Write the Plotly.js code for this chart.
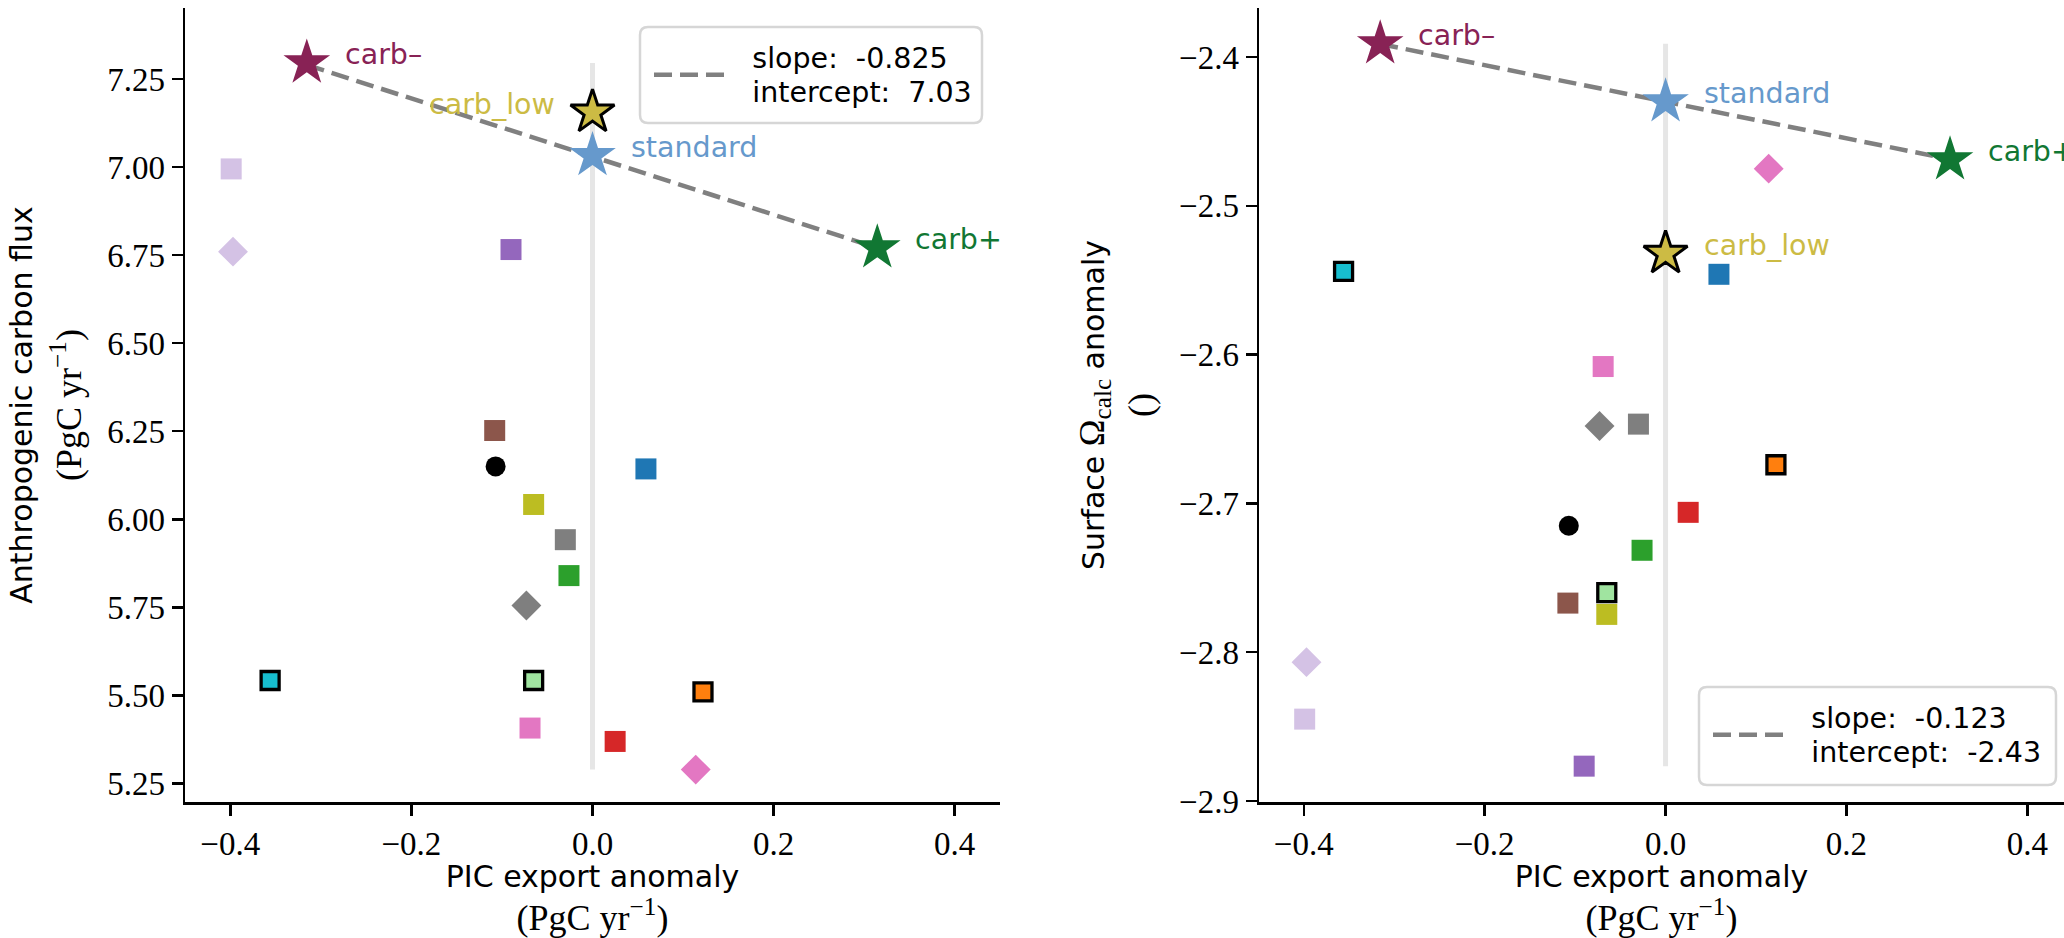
<!DOCTYPE html>
<html>
<head>
<meta charset="utf-8">
<script src="https://cdn.plot.ly/plotly-3.0.1.min.js"></script>
<style>html,body{margin:0;padding:0;background:#fff;}</style>
</head>
<body>
<div id="chart" style="width:2064px;height:938px;"></div>
<script>
// ---------------- data ----------------
// model runs (colour / marker per run)
const modelColors  = ['#000000','#1f77b4','#ff7f0e','#2ca02c','#d62728','#9467bd','#8c564b','#e377c2','#7f7f7f','#bcbd22','#17becf','#a0e4a0','#d4c2e5','#d4c2e5','#7f7f7f','#e377c2'];
const modelSymbols = ['circle','square','square','square','square','square','square','square','square','square','square','square','square','diamond','diamond','diamond'];
const modelEdged   = [false,false,true,false,false,false,false,false,false,false,true,true,false,false,false,false];
const picExport    = [-0.107, 0.059, 0.122, -0.026, 0.025, -0.090, -0.108, -0.069, -0.030, -0.065, -0.356, -0.065, -0.399, -0.397, -0.073, 0.114];
const anthroFlux   = [6.150, 6.143, 5.510, 5.840, 5.369, 6.766, 6.252, 5.407, 5.942, 6.042, 5.542, 5.542, 6.995, 6.760, 5.755, 5.289];
const omegaAnom    = [-2.715, -2.546, -2.674, -2.7315, -2.706, -2.8766, -2.767, -2.608, -2.6467, -2.7746, -2.544, -2.760, -2.845, -2.8067, -2.648, -2.475];

// highlighted experiments (stars)
const starNames  = ['carb\u2013', 'standard', 'carb_low', 'carb+'];
const starColors = ['#882255', '#6699cc', '#ccbb44', '#117733'];
const starEdged  = [false, false, true, false];
const starPic    = [-0.3155, 0.0, 0.0, 0.3145];
const starFlux   = [7.296, 7.033, 7.156, 6.771];
const starOmega  = [-2.391, -2.430, -2.532, -2.469];

// linear fits
const fitSlope     = [-0.825, -0.123];
const fitIntercept = [7.03, -2.43];

// ---------------- helpers ----------------
const W = 2064, H = 938, MT = 8, MB = 136;
const PH = H - MT - MB;
const px2x = p => p / W;
const px2y = p => (H - MB - p) / PH;

const SANS = 'DejaVu Sans';
const SERIF = 'Liberation Serif';
const FS = 28.5;

function markerSizes(symbols, edged) {
  return symbols.map((s, i) => {
    if (s === 'circle') return 20;
    if (s === 'diamond') return 23;
    if (s === 'star') return edged[i] ? 33 : 35;
    return edged[i] ? 18 : 21;
  });
}

function panelTraces(xa, ya, yvals, starY, k, legendId) {
  const xs = [Math.min(...starPic), Math.max(...starPic)];
  const sp = s => '<span style="font-size:' + FS + 'px">' + s + '</span>';
  const fit = {
    type: 'scatter', mode: 'lines', xaxis: xa, yaxis: ya,
    x: xs, y: xs.map(v => fitSlope[k] * v + fitIntercept[k]),
    line: {color: '#808080', width: 4.5, dash: '18px,8px'},
    name: sp('\u2002\u00a0slope:\u00a0\u00a0' + fitSlope[k].toFixed(3)) + '<br>' + sp('\u2002\u00a0intercept:\u00a0\u00a0' + fitIntercept[k].toFixed(2)),
    legend: legendId, showlegend: true, hoverinfo: 'skip'
  };
  const models = {
    type: 'scatter', mode: 'markers', xaxis: xa, yaxis: ya,
    x: picExport, y: yvals, showlegend: false,
    marker: {
      color: modelColors, symbol: modelSymbols, opacity: 1,
      size: markerSizes(modelSymbols, modelEdged),
      line: {color: '#000000', width: modelEdged.map(e => e ? 3.3 : 0)}
    }
  };
  const stars = {
    type: 'scatter', mode: 'markers', xaxis: xa, yaxis: ya,
    x: starPic, y: starY, showlegend: false, text: starNames,
    marker: {
      color: starColors, symbol: 'star', opacity: 1,
      size: markerSizes(starNames.map(() => 'star'), starEdged),
      line: {color: '#000000', width: starEdged.map(e => e ? 3 : 0)}
    }
  };
  return [fit, models, stars];
}

const data = [
  ...panelTraces('x', 'y', anthroFlux, starFlux, 0, 'legend'),
  ...panelTraces('x2', 'y2', omegaAnom, starOmega, 1, 'legend2')
];

// ---------------- layout ----------------
const axisCommon = {
  showline: true, linecolor: '#000', linewidth: 2.5, mirror: false,
  ticks: 'outside', ticklen: 11, tickwidth: 2.5, tickcolor: '#000',
  showgrid: false, zeroline: false,
  tickfont: {family: SERIF, size: 33, color: '#000'}
};
const unitLine = '<span style="font-family:' + SERIF + ';font-size:36px">(PgC yr<sup>\u22121</sup>)</span>';
function xTitle() {
  return {
    text: '<span style="font-size:30px">PIC export anomaly</span><br>' + unitLine,
    font: {family: SANS, size: 33, color: '#000'}, standoff: 8
  };
}

function rrect(x0, y0, x1, y1, r) {
  const X = px2x, Y = px2y;
  return 'M' + X(x0 + r) + ',' + Y(y0) + ' L' + X(x1 - r) + ',' + Y(y0) +
    ' Q' + X(x1) + ',' + Y(y0) + ' ' + X(x1) + ',' + Y(y0 + r) +
    ' L' + X(x1) + ',' + Y(y1 - r) +
    ' Q' + X(x1) + ',' + Y(y1) + ' ' + X(x1 - r) + ',' + Y(y1) +
    ' L' + X(x0 + r) + ',' + Y(y1) +
    ' Q' + X(x0) + ',' + Y(y1) + ' ' + X(x0) + ',' + Y(y1 - r) +
    ' L' + X(x0) + ',' + Y(y0 + r) +
    ' Q' + X(x0) + ',' + Y(y0) + ' ' + X(x0 + r) + ',' + Y(y0) + ' Z';
}

const allFlux = anthroFlux.concat(starFlux);
const allOmega = omegaAnom.concat(starOmega);

const shapes = [
  {type: 'line', xref: 'x', yref: 'y', x0: starPic[1], x1: starPic[1], y0: Math.min(...allFlux), y1: Math.max(...allFlux),
   line: {color: '#e6e6e6', width: 5}, layer: 'below'},
  {type: 'line', xref: 'x2', yref: 'y2', x0: starPic[1], x1: starPic[1], y0: Math.min(...allOmega), y1: Math.max(...allOmega),
   line: {color: '#e6e6e6', width: 5}, layer: 'below'},
  {type: 'path', xref: 'paper', yref: 'paper', path: rrect(640, 27, 982, 123, 8),
   line: {color: '#d6d6d6', width: 2.5}, fillcolor: 'rgba(255,255,255,0.8)', layer: 'above'},
  {type: 'path', xref: 'paper', yref: 'paper', path: rrect(1699, 687, 2056, 785, 8),
   line: {color: '#d6d6d6', width: 2.5}, fillcolor: 'rgba(255,255,255,0.8)', layer: 'above'}
];

const annotations = [];
starNames.forEach((n, i) => {
  const leftSide = (n === 'carb_low');
  annotations.push({xref: 'x', yref: 'y', x: starPic[i], y: starFlux[i], text: n, showarrow: false,
    xanchor: leftSide ? 'right' : 'left', yanchor: 'middle', xshift: leftSide ? -36 : 36, yshift: 8,
    font: {family: SANS, size: FS, color: starColors[i]}});
  annotations.push({xref: 'x2', yref: 'y2', x: starPic[i], y: starOmega[i], text: n, showarrow: false,
    xanchor: 'left', yanchor: 'middle', xshift: 36, yshift: 8,
    font: {family: SANS, size: FS, color: starColors[i]}});
});

const legendCommon = {
  bgcolor: 'rgba(0,0,0,0)', borderwidth: 0, itemwidth: 70,
  font: {family: SANS, size: 26, color: '#000'}, xanchor: 'left', yanchor: 'middle'
};

const layout = {
  width: W, height: H,
  margin: {l: 0, r: 0, t: MT, b: MB, pad: 0},
  paper_bgcolor: '#fff', plot_bgcolor: '#fff',
  showlegend: true,
  xaxis: Object.assign({}, axisCommon, {domain: [px2x(185), px2x(1000)], range: [-0.45, 0.45], dtick: 0.2, tick0: 0, tickformat: '.1f', anchor: 'y', title: xTitle()}),
  yaxis: Object.assign({}, axisCommon, {domain: [0, 1], range: [5.197, 7.452], dtick: 0.25, tick0: 0, tickformat: '.2f', anchor: 'x',
    title: {text: '<span style="font-size:30px">Anthropogenic carbon flux</span><br>' + unitLine,
            font: {family: SANS, size: 38, color: '#000'}, standoff: 14}}),
  xaxis2: Object.assign({}, axisCommon, {domain: [px2x(1259), 1], range: [-0.4495, 0.4405], dtick: 0.2, tick0: 0, tickformat: '.1f', anchor: 'y2', title: xTitle()}),
  yaxis2: Object.assign({}, axisCommon, {domain: [0, 1], range: [-2.9007, -2.367], dtick: 0.1, tick0: 0, tickformat: '.1f', anchor: 'x2',
    title: {text: '<span style="font-size:30px">Surface </span><span style="font-family:' + SERIF + ';font-size:36px">\u03a9<sub>calc</sub></span><span style="font-size:30px"> anomaly</span><br><span style="font-family:' + SERIF + ';font-size:36px">()</span>',
            font: {family: SANS, size: 38, color: '#000'}, standoff: 14}}),
  legend: Object.assign({}, legendCommon, {x: px2x(649), y: px2y(75)}),
  legend2: Object.assign({}, legendCommon, {x: px2x(1708), y: px2y(735)}),
  shapes: shapes,
  annotations: annotations
};

Plotly.newPlot('chart', data, layout, {displayModeBar: false, staticPlot: true});
</script>
</body>
</html>
